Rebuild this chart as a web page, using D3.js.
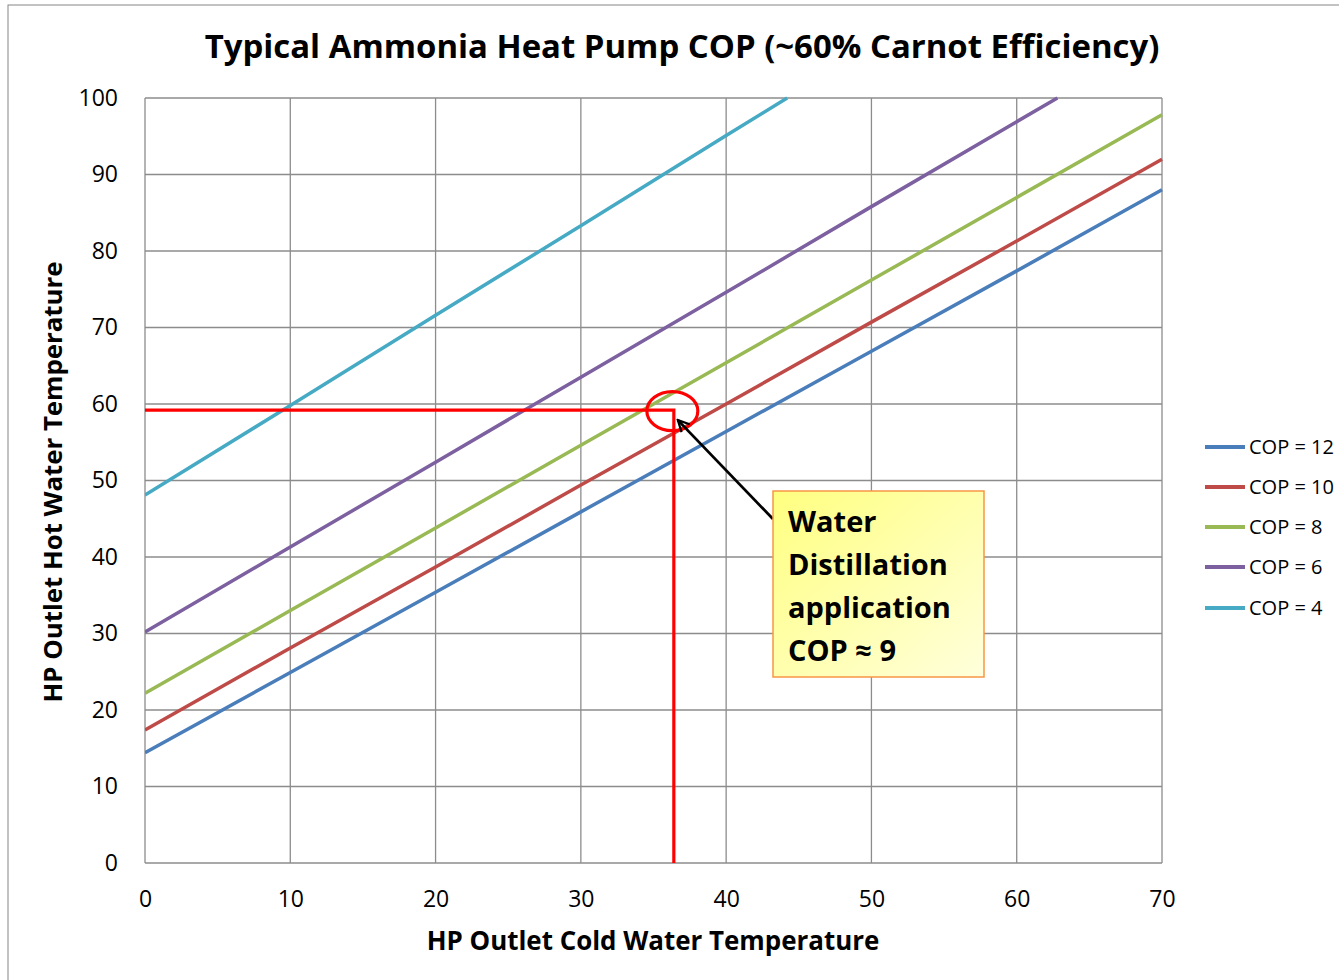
<!DOCTYPE html>
<html lang="en">
<head>
<meta charset="UTF-8">
<title>Typical Ammonia Heat Pump COP</title>
<script src="https://d3js.org/d3.v7.min.js"></script>
<style>
    body { margin: 0; background: #fff; font-family: 'Open Sans', sans-serif; }
    svg { display: block; }
</style>
</head>
<body>
<div id="chart"></div>
<script>
    // cold water temperature (x) and hot water temperature (y) for each COP curve
    const seriesNames = ["COP = 12", "COP = 10", "COP = 8", "COP = 6", "COP = 4"];
    const seriesColors = ["#4a7ebb", "#be4b48", "#98b954", "#7d60a0", "#46aac5"];
    const cop12 = [[0, 14.4], [10, 24.9], [20, 35.4], [30, 45.9], [40, 56.4], [50, 66.9], [60, 77.4], [70, 88.0]];
    const cop10 = [[0, 17.4], [10, 28.1], [20, 38.7], [30, 49.4], [40, 60.0], [50, 70.7], [60, 81.3], [70, 92.0]];
    const cop8  = [[0, 22.2], [10, 33.0], [20, 43.8], [30, 54.6], [40, 65.4], [50, 76.2], [60, 87.0], [70, 97.8]];
    const cop6  = [[0, 30.2], [10, 41.3], [20, 52.4], [30, 63.5], [40, 74.6], [50, 85.8], [60, 96.9], [62.8, 100]];
    const cop4  = [[0, 48.1], [10, 59.8], [20, 71.6], [30, 83.3], [40, 95.1], [44.2, 100]];
    const allSeries = [cop12, cop10, cop8, cop6, cop4];

    const xTicks = [0, 10, 20, 30, 40, 50, 60, 70];
    const yTicks = [0, 10, 20, 30, 40, 50, 60, 70, 80, 90, 100];

    // operating point marked in red
    const opPoint = [36.4, 59.2];
    const calloutLines = ["Water", "Distillation", "application", "COP \u2248 9"];

    const W = 1339, H = 980;
    const m = {left: 145, right: 1162, top: 98, bottom: 863};

    const svg = d3.select("#chart").append("svg")
        .attr("width", W).attr("height", H);

    // outer chart frame
    svg.append("rect")
        .attr("x", 8).attr("y", 5).attr("width", W + 20).attr("height", H + 20)
        .attr("fill", "#fff").attr("stroke", "#868686").attr("stroke-width", 1);

    const x = d3.scaleLinear().domain([0, 70]).range([m.left, m.right]);
    const y = d3.scaleLinear().domain([0, 100]).range([m.bottom, m.top]);

    // fit text to a target width
    function fit(sel, width) {
        const fs = parseFloat(sel.attr("font-size"));
        const w = sel.node().getComputedTextLength();
        sel.attr("font-size", fs * width / w);
        return sel;
    }

    // gridlines
    const grid = svg.append("g");
    grid.selectAll(".gx").data(xTicks).join("line")
        .attr("x1", d => x(d)).attr("x2", d => x(d))
        .attr("y1", m.top).attr("y2", m.bottom)
        .attr("stroke", "#8c8c8c").attr("stroke-width", 1.3);
    grid.selectAll(".gy").data(yTicks).join("line")
        .attr("x1", m.left).attr("x2", m.right)
        .attr("y1", d => y(d)).attr("y2", d => y(d))
        .attr("stroke", "#8c8c8c").attr("stroke-width", 1.3);

    // axes (labels only, Excel style)
    const xAxis = svg.append("g")
        .attr("transform", `translate(0,${m.bottom})`)
        .call(d3.axisBottom(x).tickValues(xTicks).tickSize(0).tickPadding(28));
    xAxis.select(".domain").remove();
    xAxis.selectAll("text").attr("font-size", 23).attr("font-family", "'Open Sans', sans-serif").attr("fill", "#000");

    const yAxis = svg.append("g")
        .attr("transform", `translate(${m.left},0)`)
        .call(d3.axisLeft(y).tickValues(yTicks).tickSize(0).tickPadding(27));
    yAxis.select(".domain").remove();
    yAxis.selectAll("text").attr("font-size", 23).attr("font-family", "'Open Sans', sans-serif").attr("fill", "#000");

    // series
    svg.append("defs").append("clipPath").attr("id", "plot")
        .append("rect").attr("x", m.left).attr("y", m.top - 2)
        .attr("width", m.right - m.left + 2).attr("height", m.bottom - m.top + 2);

    const line = d3.line().x(d => x(d[0])).y(d => y(d[1]));
    svg.append("g").attr("clip-path", "url(#plot)")
        .selectAll("path").data(allSeries).join("path")
        .attr("d", line)
        .attr("fill", "none")
        .attr("stroke", (d, i) => seriesColors[i])
        .attr("stroke-width", 3.5);

    // red marker lines and ellipse
    svg.append("path")
        .attr("d", `M${x(0)},${y(opPoint[1])}H${x(opPoint[0])}V${y(0)}`)
        .attr("fill", "none").attr("stroke", "#ff0000").attr("stroke-width", 3.2);
    svg.append("ellipse")
        .attr("cx", x(opPoint[0]) - 1.5).attr("cy", y(opPoint[1]) + 1)
        .attr("rx", 25.5).attr("ry", 19.5)
        .attr("fill", "none").attr("stroke", "#ff0000").attr("stroke-width", 3.2);

    // callout box
    const defs = svg.select("defs");
    const grad = defs.append("linearGradient").attr("id", "callGrad")
        .attr("x1", "0%").attr("y1", "0%").attr("x2", "100%").attr("y2", "100%");
    grad.append("stop").attr("offset", "0%").attr("stop-color", "#ffff80");
    grad.append("stop").attr("offset", "100%").attr("stop-color", "#ffffdc");

    defs.append("marker").attr("id", "arrow")
        .attr("viewBox", "0 0 10 10").attr("refX", 9).attr("refY", 5)
        .attr("markerWidth", 5).attr("markerHeight", 5).attr("orient", "auto")
        .append("path").attr("d", "M1,1L9,5L1,9").attr("fill", "none")
        .attr("stroke", "#000").attr("stroke-width", 1.6);

    const box = {x: 773, y: 491, w: 211, h: 186};
    svg.append("line")
        .attr("x1", box.x).attr("y1", 519)
        .attr("x2", x(opPoint[0]) + 4).attr("y2", y(opPoint[1]) + 10)
        .attr("stroke", "#000").attr("stroke-width", 2.8)
        .attr("marker-end", "url(#arrow)");

    svg.append("rect")
        .attr("x", box.x).attr("y", box.y).attr("width", box.w).attr("height", box.h)
        .attr("fill", "url(#callGrad)").attr("stroke", "#f79646").attr("stroke-width", 1.5);

    const baselines = [532, 575, 618, 661];
    const callFs = 29;
    calloutLines.forEach((t, i) => {
        svg.append("text")
            .attr("x", 788).attr("y", baselines[i])
            .attr("font-size", callFs).attr("font-weight", "bold")
            .attr("font-family", "'Open Sans', sans-serif")
            .text(t);
    });

    // title
    fit(svg.append("text")
        .attr("x", 682).attr("y", 58).attr("text-anchor", "middle")
        .attr("font-size", 32).attr("font-weight", "bold")
        .attr("font-family", "'Open Sans', sans-serif")
        .text("Typical Ammonia Heat Pump COP (~60% Carnot Efficiency)"), 955);

    // axis titles
    fit(svg.append("text")
        .attr("x", 653).attr("y", 950).attr("text-anchor", "middle")
        .attr("font-size", 24).attr("font-weight", "bold")
        .attr("font-family", "'Open Sans', sans-serif")
        .text("HP Outlet Cold Water Temperature"), 453);

    fit(svg.append("text")
        .attr("transform", "translate(62,482) rotate(-90)")
        .attr("text-anchor", "middle")
        .attr("font-size", 24).attr("font-weight", "bold")
        .attr("font-family", "'Open Sans', sans-serif")
        .text("HP Outlet Hot Water Temperature"), 441);

    // legend
    const legendY = [447, 487, 527, 567, 608];
    const lg = svg.append("g");
    seriesNames.forEach((name, i) => {
        lg.append("line")
            .attr("x1", 1205).attr("x2", 1245)
            .attr("y1", legendY[i]).attr("y2", legendY[i])
            .attr("stroke", seriesColors[i]).attr("stroke-width", 4);
        lg.append("text")
            .attr("x", 1249).attr("y", legendY[i] + 7)
            .attr("font-size", 20)
            .attr("font-family", "'Open Sans', sans-serif")
            .text(name);
    });
</script>
</body>
</html>
